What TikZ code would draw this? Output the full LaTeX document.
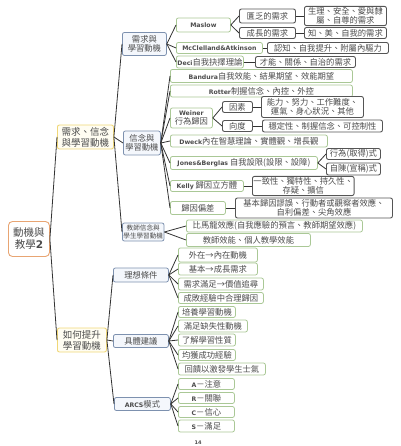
\documentclass[tikz,border=0pt]{standalone}
\usepackage{fontspec}
\setmainfont{Noto Sans CJK TC}
\newfontfamily\latfont{DejaVu Sans}
\newcommand{\enname}[1]{{\latfont\bfseries\fontsize{6.2}{8}\selectfont #1}}
\usetikzlibrary{positioning}

\definecolor{rootline}{RGB}{232,165,115}
\definecolor{lvonel}{RGB}{240,215,120}
\definecolor{lvtwol}{RGB}{125,145,175}
\definecolor{lvthreel}{RGB}{170,200,150}
\definecolor{lvfourl}{RGB}{85,85,85}

\tikzset{
  box/.style={draw, rounded corners=2pt, anchor=west, align=center, inner sep=1pt, text=black!70, fill=white, font=\fontsize{8.3}{9.5}\selectfont},
  wh/.style 2 args={minimum width=#1pt, minimum height=#2pt},
  rootbox/.style={box, draw=rootline, line width=0.9pt, rounded corners=4pt, font=\fontsize{10.5}{12}\selectfont},
  lvone/.style={box, draw=lvonel, line width=0.9pt, fill={rgb,255:red,255;green,253;blue,242}, font=\fontsize{9.5}{11}\selectfont},
  lvtwo/.style={box, draw=lvtwol, line width=0.8pt, fill={rgb,255:red,244;green,247;blue,252}},
  lvthree/.style={box, draw=lvthreel, line width=0.8pt},
  lvfour/.style={box, draw=lvfourl, line width=0.9pt},
  link/.style={draw=black!80, line width=0.8pt}
}

\begin{document}
\begin{tikzpicture}[x=1pt, y=-1pt]
  \useasboundingbox (0,0) rectangle (400,446);

  % root and first level
  \node[rootbox, wh={41}{35}] (root) at (8,239) {動機與\\教學{\latfont\bfseries 2}};
  \node[lvone, wh={56}{24}] (belief) at (57,137) {需求、信念\\與學習動機};
  \node[lvone, wh={49}{24}] (raise) at (57,340) {如何提升\\學習動機};

  % second level
  \node[lvtwo, wh={44}{23}] (needs) at (122,44) {需求與\\學習動機};
  \node[lvtwo, wh={37}{24}] (faith) at (123,143) {信念與\\學習動機};
  \node[lvtwo, wh={38}{18}, font=\fontsize{6.6}{7.8}\selectfont] (teacher) at (122,232) {教師信念與\\學生學習動機};
  \node[lvtwo, wh={55}{14}] (ideal) at (113,275) {理想條件};
  \node[lvtwo, wh={55}{13}] (advice) at (113,341) {具體建議};
  \node[lvtwo, wh={56}{13}] (arcs) at (114,404) {\enname{ARCS}模式};

  % needs
  \node[lvthree, wh={54}{14}] (maslow) at (176,25) {\enname{Maslow}};
  \node[lvthree, wh={86}{11}] (mcc) at (176,48) {\enname{McClelland\&Atkinson}};
  \node[lvthree, wh={67}{12}] (deci) at (176,62) {\enname{Deci}自我抉擇理論};
  \node[lvfour, wh={56}{14}] (lack) at (239,16) {匱乏的需求};
  \node[lvfour, wh={56}{11}] (grow) at (239,33) {成長的需求};
  \node[lvfour, wh={82}{18}] (lackx) at (304,16) {生理、安全、愛與隸\\屬、自尊的需求};
  \node[lvfour, wh={82}{11}] (growx) at (304,33) {知、美、自我的需求};
  \node[lvfour, wh={121}{11}] (mccx) at (267,48) {認知、自我提升、附屬內驅力};
  \node[lvfour, wh={100}{11}] (decix) at (255,62) {才能、關係、自治的需求};

  % beliefs
  \node[lvthree, wh={182}{13}] (bandura) at (170,76) {\enname{Bandura}自我效能、結果期望、效能期望};
  \node[lvthree, wh={182}{12}] (rotter) at (170,91) {\enname{Rotter}制握信念、內控、外控};
  \node[lvthree, wh={42}{20}] (weiner) at (170,118) {\enname{Weiner}\\行為歸因};
  \node[lvthree, wh={157}{12}] (dweck) at (170,141) {\enname{Dweck}內在智慧理論、實體觀、增長觀};
  \node[lvthree, wh={147}{13}] (jones) at (170,163) {\enname{Jones\&Berglas} 自我設限(設限、設障)};
  \node[lvthree, wh={73}{11}] (kelly) at (170,186) {\enname{Kelly} 歸因立方體};
  \node[lvthree, wh={55}{13}] (bias) at (170,208) {歸因偏差};
  \node[lvfour, wh={30}{11}] (factor) at (222,107) {因素};
  \node[lvfour, wh={30}{11}] (dim) at (222,126) {向度};
  \node[lvfour, wh={102}{21}] (factorx) at (261,107) {能力、努力、工作難度、\\運氣、身心狀況、其他};
  \node[lvfour, wh={120}{12}] (dimx) at (262,126) {穩定性、制握信念、可控制性};
  \node[lvfour, wh={54}{11}] (act) at (326,154) {行為(取得)式};
  \node[lvfour, wh={54}{12}] (claim) at (326,169) {自陳(宣稱)式};
  \node[lvfour, wh={101}{19}] (kellyx) at (252,186) {一致性、獨特性、持久性、\\存疑、擴信};
  \node[lvfour, wh={157}{20}] (biasx) at (235,208) {基本歸因謬誤、行動者或觀察者效應、\\自利偏差、尖角效應};

  % teacher
  \node[lvthree, wh={176}{12}] (pyg) at (186,226) {比馬龍效應(自我應驗的預言、教師期望效應)};
  \node[lvthree, wh={124}{13}] (eff) at (186,240) {教師效能、個人教學效能};

  % ideal
  \node[lvthree, wh={79}{14}] (idA) at (178,255) {外在→內在動機};
  \node[lvthree, wh={79}{12}] (idB) at (178,269) {基本→成長需求};
  \node[lvthree, wh={85}{12}] (idC) at (178,284) {需求滿足→價值追尋};
  \node[lvthree, wh={85}{11}] (idD) at (178,298) {成敗經驗中合理歸因};

  % advice
  \node[lvthree, wh={57}{11}] (adA) at (178,312) {培養學習動機};
  \node[lvthree, wh={69}{12}] (adB) at (178,326) {滿足缺失性動機};
  \node[lvthree, wh={57}{12}] (adC) at (178,340) {了解學習性質};
  \node[lvthree, wh={57}{11}] (adD) at (178,355) {均獲成功經驗};
  \node[lvthree, wh={87}{12}] (adE) at (178,369) {回饋以激發學生士氣};

  % ARCS
  \node[lvthree, wh={56}{11}] (arA) at (178,384) {\enname{A}－注意};
  \node[lvthree, wh={56}{11}] (arR) at (178,398) {\enname{R}－關聯};
  \node[lvthree, wh={56}{11}] (arC) at (178,412) {\enname{C}－信心};
  \node[lvthree, wh={56}{12}] (arS) at (178,426) {\enname{S}－滿足};

  \node[text=black!70, font=\latfont\bfseries\fontsize{5}{6}\selectfont] (pgno) at (198,443) {14};

  % links
  \foreach \c in {belief,raise} \draw[link] (root.east) -- (\c.west);
  \foreach \c in {needs,faith,teacher} \draw[link] (belief.east) -- (\c.west);
  \foreach \c in {ideal,advice,arcs} \draw[link] (raise.east) -- (\c.west);
  \foreach \c in {maslow,mcc,deci} \draw[link] (needs.east) -- (\c.west);
  \foreach \c in {lack,grow} \draw[link] (maslow.east) -- (\c.west);
  \draw[link] (lack.east) -- (lackx.west);
  \draw[link] (grow.east) -- (growx.west);
  \draw[link] (mcc.east) -- (mccx.west);
  \draw[link] (deci.east) -- (decix.west);
  \foreach \c in {bandura,rotter,weiner,dweck,jones,kelly,bias} \draw[link] (faith.east) -- (\c.west);
  \foreach \c in {factor,dim} \draw[link] (weiner.east) -- (\c.west);
  \draw[link] (factor.east) -- (factorx.west);
  \draw[link] (dim.east) -- (dimx.west);
  \foreach \c in {act,claim} \draw[link] (jones.east) -- (\c.west);
  \draw[link] (kelly.east) -- (kellyx.west);
  \draw[link] (bias.east) -- (biasx.west);
  \foreach \c in {pyg,eff} \draw[link] (teacher.east) -- (\c.west);
  \foreach \c in {idA,idB,idC,idD} \draw[link] (ideal.east) -- (\c.west);
  \foreach \c in {adA,adB,adC,adD,adE} \draw[link] (advice.east) -- (\c.west);
  \foreach \c in {arA,arR,arC,arS} \draw[link] (arcs.east) -- (\c.west);
\end{tikzpicture}
\end{document}
